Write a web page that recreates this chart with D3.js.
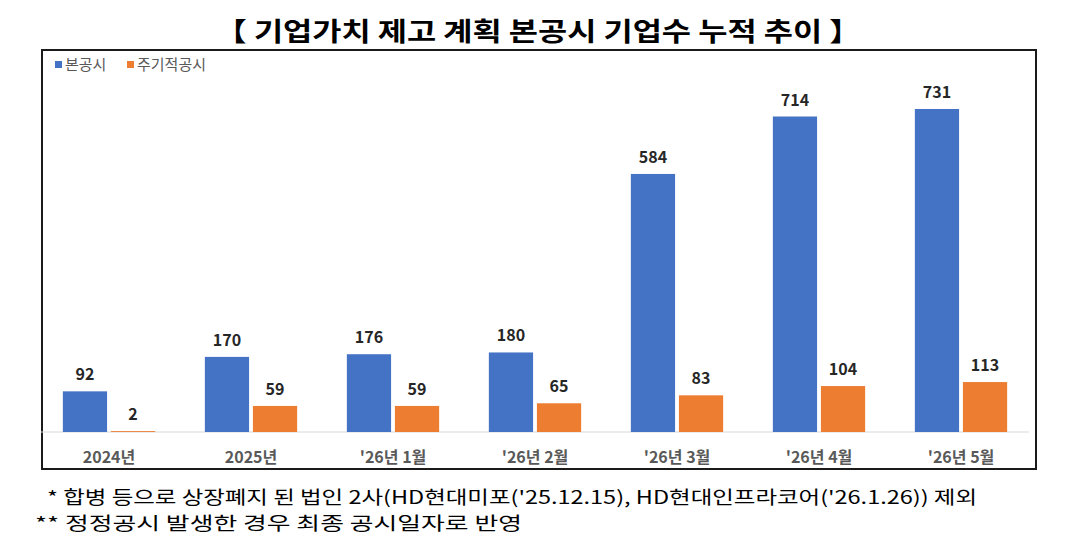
<!DOCTYPE html>
<html>
<head>
<meta charset="utf-8">
<script src="https://cdn.jsdelivr.net/npm/d3@7"></script>
<style>
  body { margin: 0; background: #fff; }
  text { font-family: "Noto Sans CJK KR", "Noto Sans", sans-serif; }
</style>
</head>
<body>
<div id="chart"></div>
<script>
// data
var categories = ["2024년", "2025년", "'26년 1월", "'26년 2월", "'26년 3월", "'26년 4월", "'26년 5월"];
var mainValues = [92, 170, 176, 180, 584, 714, 731];
var periodicValues = [2, 59, 59, 65, 83, 104, 113];
var seriesNames = ["본공시", "주기적공시"];
var colors = ["#4472C4", "#ED7D31"];

var width = 1077, height = 550;

var svg = d3.select("#chart")
  .append("svg")
  .attr("width", width)
  .attr("height", height);

// title
svg.append("text")
  .attr("x", 538)
  .attr("y", 41)
  .attr("text-anchor", "middle")
  .style("font-size", "26px")
  .style("font-weight", "bold")
  .attr("fill", "#000")
  .attr("textLength", 646)
  .attr("lengthAdjust", "spacingAndGlyphs")
  .text("【 기업가치 제고 계획 본공시 기업수 누적 추이 】");

// chart frame
svg.append("rect")
  .attr("x", 42)
  .attr("y", 50)
  .attr("width", 994)
  .attr("height", 419)
  .attr("fill", "none")
  .attr("stroke", "#1a1a1a")
  .attr("stroke-width", 2);

// legend
var legend = svg.append("g");
var legendX = [55, 127];
seriesNames.forEach(function(name, i) {
  legend.append("rect")
    .attr("x", legendX[i])
    .attr("y", 61)
    .attr("width", 7)
    .attr("height", 7)
    .attr("fill", colors[i]);
  legend.append("text")
    .attr("x", legendX[i] + 10)
    .attr("y", 70)
    .style("font-size", "15px")
    .attr("fill", "#595959")
    .text(name);
});

// scales
var x = d3.scaleBand()
  .domain(categories)
  .range([38, 1032])
  .paddingInner(0.35)
  .paddingOuter(0.175);

var sub = d3.scaleBand()
  .domain([0, 1])
  .range([0, x.bandwidth()])
  .paddingInner(0.08);

var y = d3.scaleLinear()
  .domain([0, 800])
  .range([432, 78.5]);

// baseline + x axis labels
var xAxis = svg.append("g")
  .attr("transform", "translate(0,432)")
  .call(d3.axisBottom(x).tickSize(0).tickPadding(20));
xAxis.select(".domain")
  .attr("d", "M41,0H1029")
  .attr("stroke", "#d9d9d9");
xAxis.selectAll("text")
  .style("font-family", "'Noto Sans CJK KR', sans-serif")
  .style("font-size", "16px")
  .style("font-weight", "bold")
  .attr("fill", "#595959");

var series = [mainValues, periodicValues];
series.forEach(function(vals, s) {
  var g = svg.append("g");
  g.selectAll("rect")
    .data(vals)
    .enter()
    .append("rect")
    .attr("x", function(d, i) { return x(categories[i]) + sub(s); })
    .attr("y", function(d) { return y(d); })
    .attr("width", sub.bandwidth())
    .attr("height", function(d) { return y(0) - y(d); })
    .attr("fill", colors[s]);
  g.selectAll("text")
    .data(vals)
    .enter()
    .append("text")
    .attr("x", function(d, i) { return x(categories[i]) + sub(s) + sub.bandwidth() / 2; })
    .attr("y", function(d) { return y(d) - 11; })
    .attr("text-anchor", "middle")
    .style("font-size", "16px")
    .style("font-weight", "bold")
    .attr("fill", "#262626")
    .text(function(d) { return d; });
});

// footnotes
svg.append("text")
  .attr("x", 47)
  .attr("y", 504)
  .style("font-size", "18px")
  .attr("fill", "#000")
  .attr("textLength", 930)
  .attr("lengthAdjust", "spacingAndGlyphs")
  .text("* 합병 등으로 상장폐지 된 법인 2사(HD현대미포('25.12.15), HD현대인프라코어('26.1.26))  제외");

svg.append("text")
  .attr("x", 35)
  .attr("y", 530)
  .style("font-size", "18px")
  .attr("fill", "#000")
  .attr("textLength", 487)
  .attr("lengthAdjust", "spacingAndGlyphs")
  .text("** 정정공시 발생한 경우 최종 공시일자로 반영");
</script>
</body>
</html>
